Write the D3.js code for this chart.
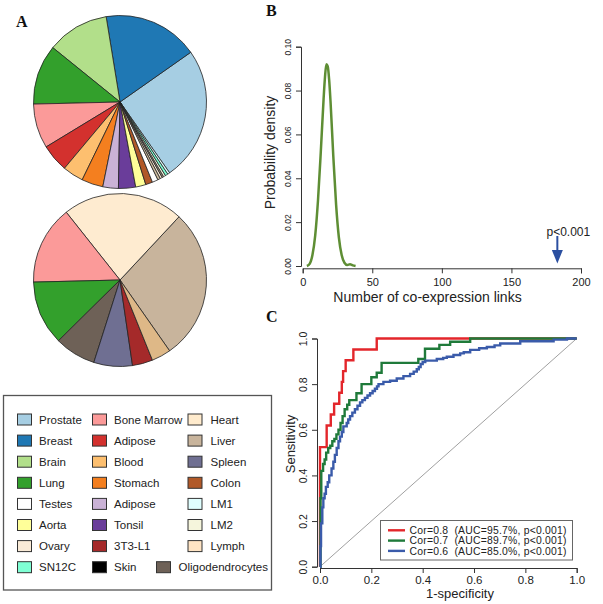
<!DOCTYPE html>
<html><head><meta charset="utf-8">
<script src="https://cdn.jsdelivr.net/npm/d3@7"></script>
<style>
body{margin:0;background:#fff}
svg{display:block}
text{font-family:"Liberation Sans",Arial,Helvetica,sans-serif;fill:#222}
</style>
</head><body>
<svg id="chart" width="603" height="604"></svg>
<script>
// ---------------- data ----------------
const pie1Labels = ["Prostate","Breast","Brain","Lung","Bone Marrow","Adipose","Blood","Stomach","Adipose","Tonsil","Aorta","Colon","Testes","Liver","Ovary","Oligodendrocytes","LM2","SN12C","LM1"];
const pie1Values = [25.0,17.8,11.6,11.2,8.3,5.2,3.9,4.0,2.9,3.2,1.9,1.3,1.1,0.5,0.4,0.3,0.4,0.5,0.4];
const pie1Colors = ["#A6CEE3","#1F78B4","#B2DF8A","#33A02C","#FB9A99","#D3312E","#FDBF6F","#F47F1F","#CAB2D6","#6A3D9A","#FFFF99","#B15928","#FFFFFF","#CDBB9E","#FAEBD7","#9C8E80","#F5F5DC","#7FFFD4","#E0FFFF"];

const pie2Labels = ["Liver","Heart","Bone Marrow","Lung","Oligodendrocytes","Spleen","3T3-L1","Lymph"];
const pie2Values = [28.3,22.6,14.7,12.0,7.7,7.2,3.8,3.6];
const pie2Colors = ["#C8B49C","#FEEBD0","#FB9A99","#33A02C","#6E6157","#6F6F92","#A52A2A","#DEB887"];

// legend (filled column by column, 8 rows)
const legendLabels = ["Prostate","Breast","Brain","Lung","Testes","Aorta","Ovary","SN12C",
  "Bone Marrow","Adipose","Blood","Stomach","Adipose","Tonsil","3T3-L1","Skin",
  "Heart","Liver","Spleen","Colon","LM1","LM2","Lymph","Oligodendrocytes"];
const legendColors = ["#A6CEE3","#1F78B4","#B2DF8A","#33A02C","#FFFFFF","#FFFF99","#FAEBD7","#7FFFD4",
  "#FB9A99","#D3312E","#FDBF6F","#F47F1F","#CAB2D6","#6A3D9A","#A52A2A","#000000",
  "#FFEBCD","#C8B49C","#6F6F92","#B15928","#E0FFFF","#F5F5DC","#FFE4C4","#6E6157"];

// panel B: null density of co-expression links
const densX = [3,5,7,9,11,13,15,16,17,18,19,20,22,24,26,28,30,32,34,36,38];
const densY = [0,0.001,0.005,0.014,0.030,0.052,0.076,0.086,0.092,0.091,0.085,0.075,0.050,0.028,0.013,0.005,0.0015,0.0005,0.0008,0.0003,0];
const observedLinks = 183;
const bXTicks = [0,50,100,150,200];
const bYTicks = [0,0.02,0.04,0.06,0.08,0.10];

// panel C: ROC curves (fpr where the step occurs, tpr after the step)
const rocNames = ["Cor=0.8  (AUC=95.7%, p<0.001)","Cor=0.7  (AUC=89.7%, p<0.001)","Cor=0.6  (AUC=85.0%, p<0.001)"];
const redFpr = [0,0,0.026,0.042,0.055,0.075,0.085,0.090,0.100,0.130,0.221,1];
const redTpr = [0,0.524,0.619,0.667,0.714,0.762,0.810,0.857,0.905,0.952,1.0,1.0];
const greenFpr = [0,0.002,0.005,0.012,0.018,0.024,0.032,0.040,0.048,0.056,0.064,0.072,0.080,0.088,0.096,0.106,0.114,0.142,0.162,0.200,0.221,0.240,0.383,0.409,0.465,0.507,0.585,1];
const greenTpr = [0,0.30,0.42,0.45,0.47,0.50,0.52,0.53,0.55,0.56,0.58,0.60,0.63,0.66,0.69,0.71,0.73,0.76,0.80,0.83,0.85,0.893,0.91,0.955,0.972,0.986,1.0,1.0];
const blueFpr = [0,0.002,0.004,0.009,0.013,0.018,0.023,0.030,0.036,0.045,0.052,0.058,0.065,0.072,0.078,0.085,0.091,0.104,0.110,0.117,0.126,0.136,0.146,0.156,0.165,0.175,0.185,0.195,0.205,0.214,0.222,0.228,0.247,0.273,0.299,0.325,0.351,0.365,0.377,0.385,0.392,0.400,0.410,0.455,0.480,0.494,0.520,0.546,0.560,0.585,0.620,0.650,0.680,0.702,0.780,0.910,0.962,1];
const blueTpr = [0,0.09,0.19,0.26,0.30,0.32,0.35,0.37,0.40,0.43,0.46,0.49,0.52,0.55,0.57,0.59,0.615,0.63,0.645,0.66,0.675,0.69,0.705,0.72,0.73,0.74,0.75,0.76,0.77,0.78,0.79,0.80,0.81,0.815,0.825,0.835,0.845,0.855,0.865,0.875,0.888,0.897,0.903,0.91,0.915,0.92,0.928,0.935,0.94,0.95,0.957,0.963,0.97,0.978,0.988,0.995,1.0,1.0];
const cTicks = [0,0.2,0.4,0.6,0.8,1.0];

// ---------------- drawing ----------------
const svg = d3.select("#chart");
const FONT = '"Liberation Sans",Arial,Helvetica,sans-serif';
const deg = Math.PI/180;

function panelLetter(t,x,y){
  svg.append("text").attr("x",x).attr("y",y).text(t)
    .style("font-family",'"Liberation Serif","Times New Roman",serif')
    .style("font-weight","bold").style("font-size","16px").style("fill","#111");
}
panelLetter("A",16,27);
panelLetter("B",266,15.5);
panelLetter("C",266,322);

// ---- Panel A: pies ----
function drawPie(values, colors, cx, cy, r){
  const pie = d3.pie().sort(null).startAngle(145*deg).endAngle(145*deg - 2*Math.PI);
  const arc = d3.arc().innerRadius(0).outerRadius(r);
  const g = svg.append("g").attr("transform",`translate(${cx},${cy})`);
  g.selectAll("path").data(pie(values)).join("path")
    .attr("d",arc).attr("fill",(d,i)=>colors[i])
    .attr("stroke","#222").attr("stroke-width",0.8).attr("stroke-linejoin","round");
}
drawPie(pie1Values, pie1Colors, 120, 102, 86.5);
drawPie(pie2Values, pie2Colors, 120, 280, 86.5);

// legend box
svg.append("rect").attr("x",3.5).attr("y",395.5).attr("width",268).attr("height",194.5)
  .attr("fill","#fff").attr("stroke","#555").attr("stroke-width",1.3);
const colSwatchX = [17.5,92.5,188];
const colTextX = [39,114,210.5];
const legG = svg.append("g");
legendLabels.forEach((lab,i)=>{
  const col = Math.floor(i/8), row = i%8;
  const yc = 419.5 + row*21.1;
  let sx = colSwatchX[col], tx = colTextX[col];
  if(i === legendLabels.length-1){ sx = 156.5; tx = 178.5; }
  legG.append("rect").attr("x",sx).attr("y",yc-5.5).attr("width",14).attr("height",11)
    .attr("fill",legendColors[i]).attr("stroke","#333").attr("stroke-width",1);
  legG.append("text").attr("x",tx).attr("y",yc).attr("dy","0.36em").text(lab)
    .style("font-size","11.5px");
});

// ---- Panel B ----
const bx = d3.scaleLinear().domain([0,200]).range([302.7,581]);
const by = d3.scaleLinear().domain([0,0.1]).range([266,46.7]);

const bxAxis = svg.append("g").attr("transform","translate(0,268.3)")
  .call(d3.axisBottom(bx).tickValues(bXTicks).tickSizeOuter(0).tickSize(5).tickPadding(3).tickFormat(d3.format("d")));
const byAxis = svg.append("g").attr("transform","translate(301,0)")
  .call(d3.axisLeft(by).tickValues(bYTicks).tickSizeOuter(0).tickSize(5).tickFormat(d3.format(".2f")));
[bxAxis,byAxis].forEach(a=>{
  a.attr("font-family",FONT);
  a.selectAll("path,line").attr("stroke","#333");
});
bxAxis.selectAll("text").style("font-size","11px").attr("y",10).attr("dy","0.71em").style("fill","#222");
byAxis.selectAll("text").style("font-size","8.5px").attr("x",0).attr("dy",0)
  .attr("text-anchor","middle").attr("transform","translate(-12.7,0) rotate(-90) translate(0,3)").style("fill","#222");

svg.append("text").attr("x",427.5).attr("y",302).attr("text-anchor","middle")
  .text("Number of co-expression links").style("font-size","14px");
svg.append("text").attr("transform","translate(275,152.5) rotate(-90)").attr("text-anchor","middle")
  .text("Probability density").style("font-size","14px");

const densLine = d3.line().x(d=>bx(d[0])).y(d=>by(d[1])).curve(d3.curveMonotoneX);
svg.append("path").datum(densX.map((x,i)=>[x,densY[i]]))
  .attr("d",densLine).attr("fill","none").attr("stroke","#5E8E34").attr("stroke-width",2.5)
  .attr("stroke-linejoin","round");

// arrow for observed value
const ax = bx(observedLinks);
svg.append("line").attr("x1",ax).attr("x2",ax).attr("y1",236).attr("y2",252)
  .attr("stroke","#2B4FA0").attr("stroke-width",2);
svg.append("path").attr("d",`M${ax-5.5},250 L${ax+5.5},250 L${ax},263.5 Z`).attr("fill","#2B4FA0");
svg.append("text").attr("x",ax+11).attr("y",235.5).attr("text-anchor","middle")
  .text("p<0.001").style("font-size","12px");

// ---- Panel C ----
const cx = d3.scaleLinear().domain([0,1]).range([320,576.7]);
const cy = d3.scaleLinear().domain([0,1]).range([566.7,338.5]);

const cxAxis = svg.append("g").attr("transform","translate(0,568)")
  .call(d3.axisBottom(cx).tickValues(cTicks).tickSizeOuter(0).tickSize(5).tickFormat(d3.format(".1f")));
const cyAxis = svg.append("g").attr("transform","translate(317,0)")
  .call(d3.axisLeft(cy).tickValues(cTicks).tickSizeOuter(0).tickSize(5).tickFormat(d3.format(".1f")));
[cxAxis,cyAxis].forEach(a=>{
  a.attr("font-family",FONT);
  a.selectAll("path,line").attr("stroke","#333");
});
cxAxis.selectAll("text").style("font-size","11.5px").attr("y",8).attr("dy","0.71em").style("fill","#222");
cyAxis.selectAll("text").style("font-size","10.5px").attr("x",0).attr("dy",0)
  .attr("text-anchor","middle").attr("transform","translate(-14,0) rotate(-90) translate(0,3.7)").style("fill","#222");

svg.append("text").attr("x",460).attr("y",597.5).attr("text-anchor","middle")
  .text("1-specificity").style("font-size","13px");
svg.append("text").attr("transform","translate(294.5,444) rotate(-90)").attr("text-anchor","middle")
  .text("Sensitivity").style("font-size","13px");

// diagonal
svg.append("line").attr("x1",cx(0)).attr("y1",cy(0)).attr("x2",cx(1)).attr("y2",cy(1))
  .attr("stroke","#A0A0A0").attr("stroke-width",1);

const rocColors = ["#E3262B","#1F7A3A","#3A5BAA"];
const rocSeries = [[redFpr,redTpr],[greenFpr,greenTpr],[blueFpr,blueTpr]];
const rocLine = d3.line().x(d=>cx(d[0])).y(d=>cy(d[1])).curve(d3.curveStepAfter);
rocSeries.forEach(([f,t],k)=>{
  svg.append("path").datum(f.map((x,i)=>[x,t[i]]))
    .attr("d",rocLine).attr("fill","none").attr("stroke",rocColors[k])
    .attr("stroke-width",2.4).attr("stroke-linejoin","miter");
});

// ROC legend
svg.append("rect").attr("x",380.5).attr("y",520.5).attr("width",192).attr("height",39.5)
  .attr("fill","#fff").attr("stroke","#666").attr("stroke-width",1);
rocNames.forEach((nm,k)=>{
  const yy = 530.3 + k*10.3;
  svg.append("line").attr("x1",388).attr("x2",405).attr("y1",yy).attr("y2",yy)
    .attr("stroke",rocColors[k]).attr("stroke-width",2.4);
  svg.append("text").attr("x",409.5).attr("y",yy).attr("dy","0.36em")
    .attr("xml:space","preserve").style("white-space","pre")
    .text(nm).style("font-size","10.4px").attr("textLength",157).attr("lengthAdjust","spacing");
});
</script>
</body></html>
